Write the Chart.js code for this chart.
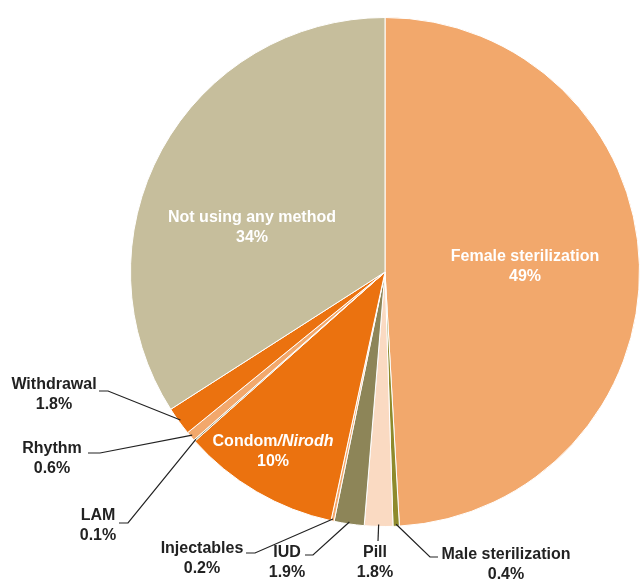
<!DOCTYPE html>
<html>
<head>
<meta charset="utf-8">
<script src="https://cdn.jsdelivr.net/npm/chart.js@4.4.0/dist/chart.umd.min.js"></script>
<style>
  html, body { margin: 0; padding: 0; background: #ffffff; }
  #wrap { width: 640px; height: 581px; }
</style>
</head>
<body>
<div id="wrap"><canvas id="methodPie" width="640" height="581"></canvas></div>
<script>
// contraceptive use, clockwise from 12 o'clock
var METHODS = ["Female sterilization", "Male sterilization", "Pill", "IUD", "Injectables",
  "Condom/Nirodh", "LAM", "Rhythm", "Withdrawal", "Not using any method"];
var SHARES = [49, 0.4, 1.8, 1.9, 0.2, 10, 0.1, 0.6, 1.8, 34];
var SHARE_TEXT = ["49%", "0.4%", "1.8%", "1.9%", "0.2%", "10%", "0.1%", "0.6%", "1.8%", "34%"];
var COLORS = ["#F2A86C", "#8E8A2C", "#FADAC2", "#8D8558", "#F2A86C",
  "#EB720F", "#9A9470", "#F2A86C", "#EB720F", "#C6BE9C"];

// where each label sits: inside labels have no leader line,
// outside ones have an elbow point and a short horizontal tail
var LABEL_POS = [
  {inside: true, x: 525, y: 257},
  {x: 506, y: 555, elbow: [430, 557], tail: [438, 557]},
  {x: 375, y: 553, elbow: [378, 541], tail: null},
  {x: 287, y: 553, elbow: [313, 555], tail: [305, 555]},
  {x: 202, y: 549, elbow: [255, 553], tail: [246, 553]},
  {inside: true, x: 273, y: 442},
  {x: 98, y: 516, elbow: [128, 523], tail: [119, 523]},
  {x: 52, y: 449, elbow: [100, 453], tail: [88, 453]},
  {x: 54, y: 385, elbow: [108, 391], tail: [99, 391]},
  {inside: true, x: 252, y: 218}
];

var FONT = "bold 16px 'Liberation Sans', Arial, sans-serif";
var FONT_IT = "italic bold 16px 'Liberation Sans', Arial, sans-serif";

var labelPlugin = {
  id: "pieLabels",
  afterDraw: function(chart) {
    var ctx = chart.ctx;
    var arcs = chart.getDatasetMeta(0).data;
    ctx.save();
    ctx.textAlign = "center";
    ctx.textBaseline = "middle";
    for (var i = 0; i < arcs.length; i++) {
      var pos = LABEL_POS[i];
      var arc = arcs[i];
      if (pos.inside) {
        ctx.fillStyle = "#ffffff";
        ctx.font = FONT;
        if (i == 5) {
          // Condom/Nirodh with the second word in italics
          var a = "Condom";
          var b = "/Nirodh";
          var wa = ctx.measureText(a).width;
          ctx.font = FONT_IT;
          var wb = ctx.measureText(b).width;
          var left = pos.x - (wa + wb) / 2;
          ctx.textAlign = "left";
          ctx.font = FONT;
          ctx.fillText(a, left, pos.y);
          ctx.font = FONT_IT;
          ctx.fillText(b, left + wa, pos.y);
          ctx.textAlign = "center";
          ctx.font = FONT;
        } else {
          ctx.fillText(METHODS[i], pos.x, pos.y);
        }
        ctx.fillText(SHARE_TEXT[i], pos.x, pos.y + 20);
        continue;
      }
      // leader line from the slice edge
      var mid = (arc.startAngle + arc.endAngle) / 2;
      var r = arc.outerRadius - 2;
      var sx = arc.x + Math.cos(mid) * r;
      var sy = arc.y + Math.sin(mid) * r;
      ctx.strokeStyle = "#222222";
      ctx.lineWidth = 1.2;
      ctx.beginPath();
      ctx.moveTo(sx, sy);
      ctx.lineTo(pos.elbow[0], pos.elbow[1]);
      if (pos.tail) ctx.lineTo(pos.tail[0], pos.tail[1]);
      ctx.stroke();
      ctx.fillStyle = "#222222";
      ctx.font = FONT;
      ctx.fillText(METHODS[i], pos.x, pos.y);
      ctx.fillText(SHARE_TEXT[i], pos.x, pos.y + 20);
    }
    ctx.restore();
  }
};

new Chart(document.getElementById("methodPie").getContext("2d"), {
  type: "pie",
  data: {
    labels: METHODS,
    datasets: [{
      data: SHARES,
      backgroundColor: COLORS,
      borderColor: "#ffffff",
      borderWidth: 1
    }]
  },
  options: {
    responsive: false,
    animation: false,
    layout: { padding: { left: 130, right: 0, top: 17, bottom: 54 } },
    plugins: {
      legend: { display: false },
      tooltip: { enabled: false }
    }
  },
  plugins: [labelPlugin]
});
</script>
</body>
</html>
